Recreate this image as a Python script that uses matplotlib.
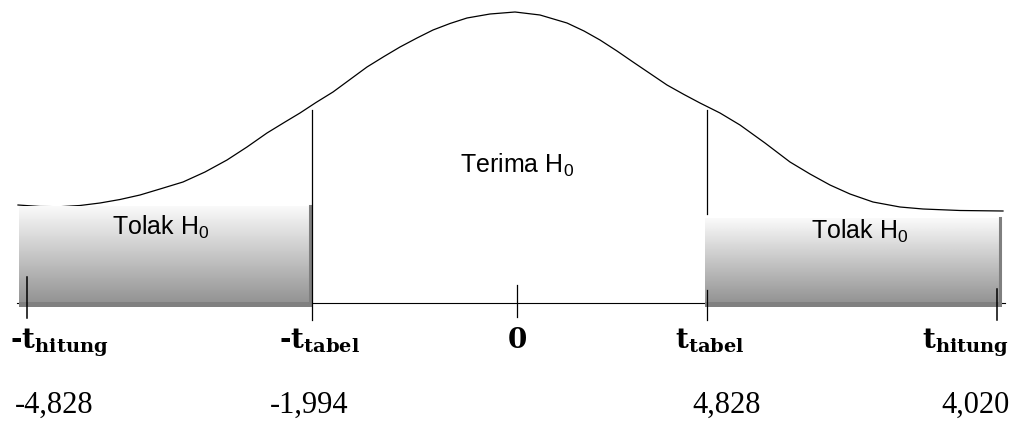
import numpy as np
import matplotlib.pyplot as plt

plt.rcParams['mathtext.fontset'] = 'custom'
plt.rcParams['mathtext.rm'] = 'Liberation Sans'
plt.rcParams['mathtext.bf'] = 'DejaVu Serif:bold'

# bell curve (pixel coords, y down)
curve_x = [18, 40, 60, 80, 100, 120, 140, 160, 183, 205, 227, 247, 267, 285, 300,
           316, 333, 350, 367, 384, 400, 417, 433, 450, 467, 490, 515, 540, 567,
           584, 600, 617, 633, 650, 667, 684, 700, 720,
           740, 765, 790, 810, 830, 850, 873, 900, 923, 960, 1003]
curve_y = [205, 206.5, 206.7, 205.5, 203, 199.5, 195, 189, 182, 172, 160, 147, 133, 122, 113,
           102.5, 92, 79.5, 67, 56.5, 47, 38, 30, 23.5, 18, 14, 12, 15, 23,
           31, 40, 51, 62, 73.5, 85, 94.5, 103, 113,
           125, 143, 162, 174, 185, 194, 202, 207, 209, 210.5, 211]

# regions
region_labels = ['Tolak H$_\\mathrm{0}$', 'Terima H$_\\mathrm{0}$', 'Tolak H$_\\mathrm{0}$']
t_labels = ['-$\\mathbf{t}_{\\mathbf{hitung}}$', '-$\\mathbf{t}_{\\mathbf{tabel}}$',
            '$\\mathbf{0}$', '$\\mathbf{t}_{\\mathbf{tabel}}$', '$\\mathbf{t}_{\\mathbf{hitung}}$']
t_values = ['-4,828', '-1,994', '', '4,828', '4,020']

# layout (pixels)
box_left = (19, 310, 206, 302)     # x0, x1, ytop, ybottom
box_right = (705, 1000, 218, 302)
region_pos = [(161, 227), (517, 165), (860, 231)]
t_x = [59, 319, 517, 710, 965]
val_x = [54, 309, 727, 976]

fig = plt.figure(figsize=(10.23, 4.30), dpi=100)
ax = fig.add_axes([0, 0, 1, 1])
ax.set_xlim(0, 1023)
ax.set_ylim(430, 0)
ax.axis('off')

ax.plot(curve_x, curve_y, color='black', lw=0.9, zorder=1, solid_joinstyle='round')

# baseline
ax.plot([17, 1005], [303, 303], color='black', lw=0.8, zorder=1)

grad = np.linspace(0.98, 0.58, 200).reshape(-1, 1)
for (x0, x1, yt, yb) in [box_left, box_right]:
    ax.imshow(grad, cmap='gray', vmin=0, vmax=1, aspect='auto',
              extent=[x0, x1, yb, yt], zorder=2, interpolation='bilinear')
    ax.fill_between([x0, x1 + 2], yb, yb + 5, color='#808080', lw=0, zorder=2)
    ax.plot([x1, x1], [yt, yb], color='#7f7f7f', lw=2.2, zorder=2)

# vertical lines and ticks
ax.plot([312, 312], [110, 320], color='black', lw=0.9, zorder=3)
ax.plot([707, 707], [110, 214], color='black', lw=0.9, zorder=3)
ax.plot([707, 707], [290, 320], color='black', lw=0.9, zorder=3)
ax.plot([517, 517], [285, 317], color='black', lw=0.9, zorder=3)
ax.plot([27, 27], [277, 318], color='black', lw=1.1, zorder=3)
ax.plot([997, 997], [289, 320], color='black', lw=1.1, zorder=3)

for lab, (x, y) in zip(region_labels, region_pos):
    ax.text(x, y, lab, ha='center', va='center', fontsize=18,
            family='Liberation Sans', zorder=4)

for lab, x in zip(t_labels, t_x):
    ax.text(x, 348, lab, ha='center', va='baseline', fontsize=20,
            family='DejaVu Serif', fontweight='bold', zorder=4)

vals = [v for v in t_values if v]
for v, x in zip(vals, val_x):
    ax.text(x, 405, v, ha='center', va='center', fontsize=22,
            family='Liberation Serif', zorder=4)

fig.savefig('out.png', dpi=100)
plt.close(fig)
